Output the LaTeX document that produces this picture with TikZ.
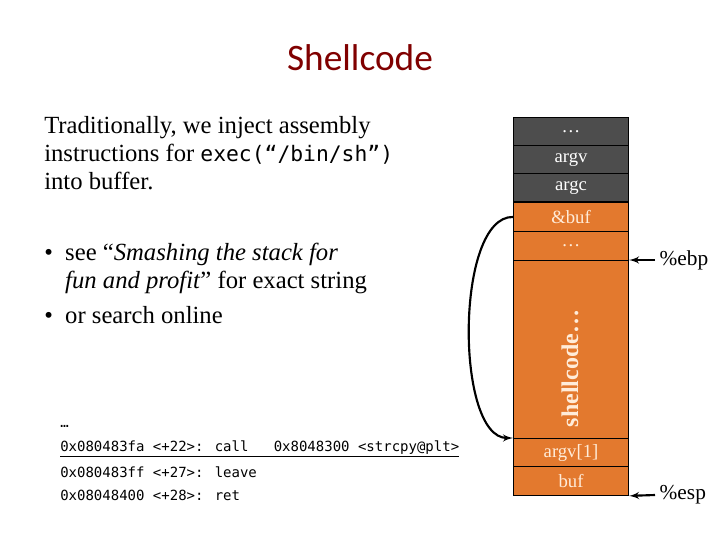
\documentclass[tikz,border=0pt]{standalone}
\usepackage{fontspec}
\setmainfont{Liberation Serif}
\newfontfamily\titlefont{Carlito}
\newfontfamily\codefont{DejaVu Sans Mono}
\usetikzlibrary{arrows}
\definecolor{titlered}{RGB}{128,0,0}
\definecolor{stackgray}{RGB}{77,77,77}
\definecolor{stackorange}{RGB}{227,121,46}
\begin{document}
\begin{tikzpicture}
        [
            x = 0.75pt, y = -0.75pt, > = latex',
            slot/.style = {rectangle, draw=black, thick, anchor=north west, minimum width=86.25pt,
                           inner sep=0pt, text=white, font=\fontsize{14}{16}\selectfont},
            upper/.style = {slot, fill=stackgray, minimum height=21.2pt},
            lower/.style = {slot, fill=stackorange, minimum height=21.6pt, text=white!85!orange},
            ptr/.style = {->, line width=1.6pt},
            codeline/.style = {anchor=west, inner sep=0pt, font=\codefont\fontsize{10.5}{12}\selectfont}
        ]
        \useasboundingbox (0, 0) rectangle (720, 540);

        \node [text=titlered, font=\titlefont\fontsize{28}{32}\selectfont] at (360, 58) (title) {Shellcode};

        \node [anchor=north west, align=left, inner sep=0pt, font=\fontsize{18.5}{21}\selectfont] at (44, 116) (intro)
            {Traditionally, we inject assembly\\instructions for {\codefont\fontsize{16}{21}\selectfont exec(“/bin/sh”)}\\into buffer.};
        \node [anchor=north west, align=left, inner sep=0pt, font=\fontsize{18.5}{21}\selectfont] at (44, 243) (tips)
            {\textbullet\ \ see “\textit{Smashing the stack for}\\\phantom{\textbullet\ \ }\textit{fun and profit}” for exact string\\[5pt]\textbullet\ \ or search online};

        \node [codeline] at (60, 426) (dots) {…};
        \node [codeline] at (60, 449) (call) {\underline{0x080483fa <+22>: call\ \ \ 0x8048300 <strcpy@plt>}};
        \node [codeline] at (60, 472) (leave) {0x080483ff <+27>: leave};
        \node [codeline] at (60, 495) (ret) {0x08048400 <+28>: ret};

        \node [upper] at (513, 117) (top) {…};
        \node [upper] at (513, 145) (argv) {argv};
        \node [upper] at (513, 173) (argc) {argc};
        \node [lower] at (513, 202) (retaddr) {\&buf};
        \node [lower] at (513, 231) (saved) {…};
        \node [lower, minimum height=133.5pt] at (513, 260) (shell) {};
        \node [rotate=90, font=\bfseries\fontsize{18}{20}\selectfont, text=white!85!orange, anchor=west] at (570, 432) (shelltext) {shellcode…};
        \node [lower] at (513, 438) (argvone) {argv[1]};
        \node [lower] at (513, 466) (buf) {buf};

        \node [anchor=west, font=\fontsize{16}{18}\selectfont] at (655, 260) (ebp) {\%ebp};
        \node [anchor=west, font=\fontsize{16}{18}\selectfont] at (655, 495) (esp) {\%esp};

        \draw[ptr] (ebp.west) -- (shell.north east);
        \draw[ptr] (esp.west) -- (buf.south east);
        \draw[ptr] (retaddr.west) .. controls (455, 216) and (455, 438) .. (argvone.north west);
\end{tikzpicture}
\end{document}
